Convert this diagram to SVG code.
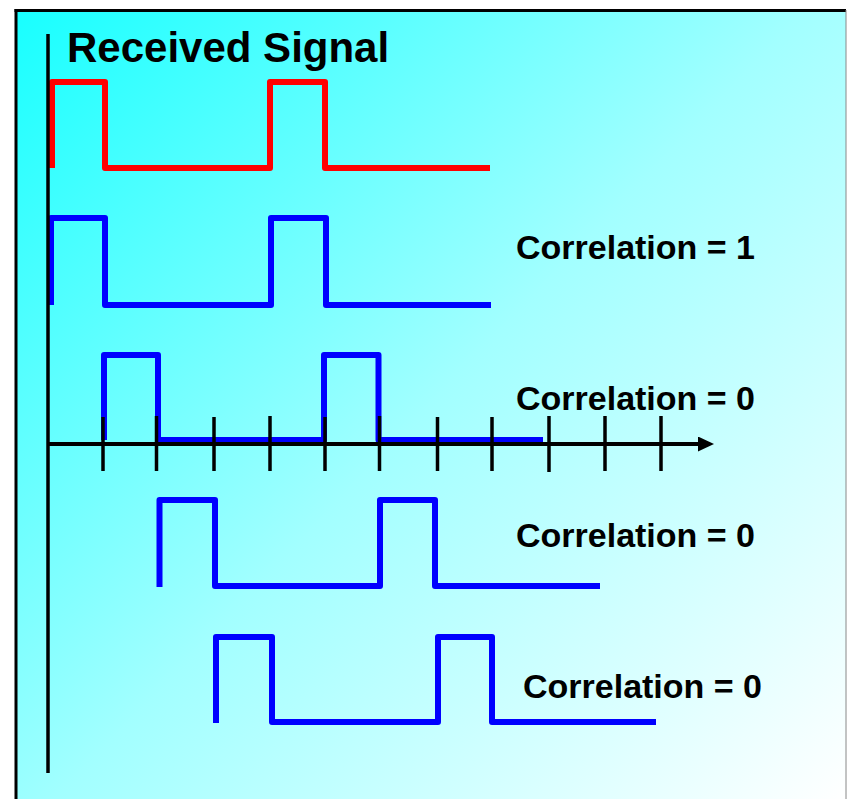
<svg xmlns="http://www.w3.org/2000/svg" width="847" height="799" viewBox="0 0 847 799">
  <defs>
    <linearGradient id="bg" gradientUnits="userSpaceOnUse" x1="16" y1="10" x2="846" y2="799">
      <stop offset="0" stop-color="#18FFFF"/>
      <stop offset="0.5" stop-color="#A2FFFF"/>
      <stop offset="1" stop-color="#FFFFFF"/>
    </linearGradient>
    <marker id="arrow" markerWidth="16" markerHeight="16" refX="0" refY="7.5" orient="auto" markerUnits="userSpaceOnUse">
      <path d="M0,0 L16,7.5 L0,15 Z" fill="#000"/>
    </marker>
    <style>
      .sig { fill: none; stroke-width: 6; stroke-linejoin: round; stroke-linecap: butt; }
      .red { stroke: #FF0000; }
      .blue { stroke: #0000FF; }
      .axis { stroke: #000; fill: none; }
      .tick { stroke: #000; stroke-width: 3.5; }
      .lbl { font-family: "Liberation Sans", Arial, sans-serif; font-weight: bold; fill: #000; }
    </style>
  </defs>

  <rect x="0" y="0" width="847" height="799" fill="#FFFFFF"/>
  <g id="frame">
    <rect x="16" y="10" width="830" height="800" fill="url(#bg)"/>
    <line x1="14.5" y1="10.5" x2="846" y2="10.5" stroke="#000" stroke-width="3"/>
    <line x1="16" y1="9" x2="16" y2="799" stroke="#000" stroke-width="3"/>
    <line x1="846" y1="10" x2="846" y2="799" stroke="#888" stroke-width="1"/>
  </g>

  <g id="title">
    <text class="lbl" x="67" y="62" font-size="42">Received Signal</text>
  </g>

  <g id="received-signal">
    <path class="sig red" d="M52,168 V82 H105 V168 H270 V82 H325 V168 H490"/>
  </g>

  <g id="code-0">
    <path class="sig blue" d="M51,305 V218 H105 V305 H271 V218 H326 V305 H491"/>
    <text class="lbl" x="516" y="259" font-size="34">Correlation = 1</text>
  </g>

  <g id="code-1">
    <path class="sig blue" d="M104,440 V355 H158 V440 H324 V355 H378.5 V440 H543"/>
    <text class="lbl" x="516" y="410" font-size="34">Correlation = 0</text>
  </g>

  <g id="code-2">
    <path class="sig blue" d="M159.5,587 V500 H215 V586 H380 V500 H435 V586 H600"/>
    <text class="lbl" x="516" y="547" font-size="34">Correlation = 0</text>
  </g>

  <g id="code-3">
    <path class="sig blue" d="M216,723 V637 H272 V722 H438 V637 H492 V722 H656"/>
    <text class="lbl" x="523" y="698" font-size="34">Correlation = 0</text>
  </g>

  <g id="connectors">
    <line class="axis" x1="48" y1="34" x2="48" y2="773" stroke-width="3.5"/>
    <line class="axis" x1="48" y1="444" x2="698" y2="444" stroke-width="4" marker-end="url(#arrow)"/>
    <g id="ticks">
      <line class="tick" x1="103" y1="417" x2="103" y2="471"/>
      <line class="tick" x1="156.5" y1="416" x2="156.5" y2="471"/>
      <line class="tick" x1="214" y1="417" x2="214" y2="471"/>
      <line class="tick" x1="270" y1="416" x2="270" y2="471"/>
      <line class="tick" x1="325" y1="417" x2="325" y2="471"/>
      <line class="tick" x1="379.5" y1="416" x2="379.5" y2="471"/>
      <line class="tick" x1="437.5" y1="417" x2="437.5" y2="471"/>
      <line class="tick" x1="492" y1="417" x2="492" y2="471"/>
      <line class="tick" x1="549" y1="416" x2="549" y2="472"/>
      <line class="tick" x1="605" y1="416" x2="605" y2="471"/>
      <line class="tick" x1="661" y1="416" x2="661" y2="471"/>
    </g>
  </g>
</svg>
